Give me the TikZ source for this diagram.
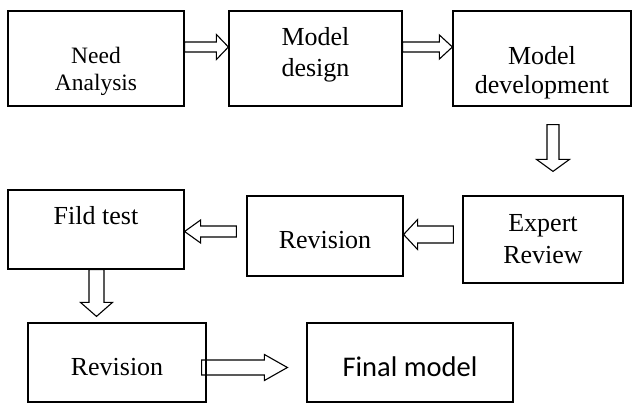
\documentclass[tikz,border=0pt]{standalone}
\usepackage{fontspec}
\setmainfont{Liberation Serif}
\newfontfamily\calibrifont{Carlito}
\usepackage{tikz}
\usetikzlibrary{calc}
\usetikzlibrary{positioning}
\tikzset{
  StepBox/.style={
    rectangle, draw=black, line width=1.2pt,
    inner sep=0pt, align=center,
    font=\fontsize{26}{31}\selectfont,
  },
  BlockArrow/.style n args={3}{
    draw=black, line width=1.1pt, line join=miter,
    to path={
      ($(\tikztotarget)!#3!(\tikztostart)$) coordinate (hb)
      ($(\tikztostart)!#1!90:(\tikztotarget)$) -- ($(hb)!#1!90:(\tikztotarget)$)
      -- ($(hb)!#2!90:(\tikztotarget)$) -- (\tikztotarget)
      -- ($(hb)!#2!-90:(\tikztotarget)$) -- ($(hb)!#1!-90:(\tikztotarget)$)
      -- ($(\tikztostart)!#1!-90:(\tikztotarget)$) -- cycle
    },
  },
}

\begin{document}
\begin{tikzpicture}[x=1pt,y=-1pt]
\useasboundingbox (0,0) rectangle (632,403);
% first row
\node[StepBox, minimum width=176pt, minimum height=95pt, font=\fontsize{23.5}{27}\selectfont, text height=64pt, text depth=0pt] (need) at (96,58.5) {Need\\Analysis};
\node[StepBox, minimum width=173pt, minimum height=95pt, text height=37pt, text depth=0pt] (design) at (315.5,58.5) {Model\\design};
\node[StepBox, minimum width=178pt, minimum height=95pt, font=\fontsize{26}{29}\selectfont, text height=71pt, text depth=0pt] (devel) at (542,58.5) {Model\\development};
% second row
\node[StepBox, minimum width=176pt, minimum height=79pt, text height=10pt, text depth=19pt] (fild) at (96,229.5) {Fild test};
\node[StepBox, minimum width=156pt, minimum height=80pt, text height=26pt, text depth=0pt] (rev1) at (325,236) {Revision};
\node[StepBox, minimum width=160pt, minimum height=87pt, font=\fontsize{26}{32}\selectfont, text height=49pt, text depth=0pt] (expert) at (543,239.5) {Expert\\Review};
% third row
\node[StepBox, minimum width=178pt, minimum height=79pt, text height=25pt, text depth=0pt] (rev2) at (117,362.5) {Revision};
\node[StepBox, minimum width=206pt, minimum height=79pt, font=\calibrifont\fontsize{28.5}{32}\selectfont, text height=29pt, text depth=0pt] (final) at (410,362.5) {Final model};
% arrows
\draw[BlockArrow={5pt}{12.5pt}{12pt}] ([yshift=11.5pt]need.east) to ([yshift=11.5pt]design.west);
\draw[BlockArrow={5pt}{12pt}{13pt}] ([yshift=11.5pt]design.east) to ([yshift=11.5pt]devel.west);
\draw[BlockArrow={6pt}{16.5pt}{12pt}] ([xshift=11pt,yshift=-18pt]devel.south) to ([xshift=10pt,yshift=24pt]expert.north);
\draw[BlockArrow={8.5pt}{15pt}{14pt}] ([xshift=-9pt,yshift=5pt]expert.west) to ([yshift=1.5pt]rev1.east);
\draw[BlockArrow={5.5pt}{11.5pt}{16pt}] ([xshift=-10pt,yshift=4.5pt]rev1.west) to ([yshift=-2pt]fild.east);
\draw[BlockArrow={7.5pt}{16pt}{14pt}] ([xshift=0.5pt]fild.south) to ([xshift=-20.5pt,yshift=6pt]rev2.north);
\draw[BlockArrow={7.5pt}{13pt}{23pt}] ([xshift=-5pt,yshift=-5pt]rev2.east) to ([xshift=-19pt,yshift=-5pt]final.west);
\end{tikzpicture}
\end{document}
